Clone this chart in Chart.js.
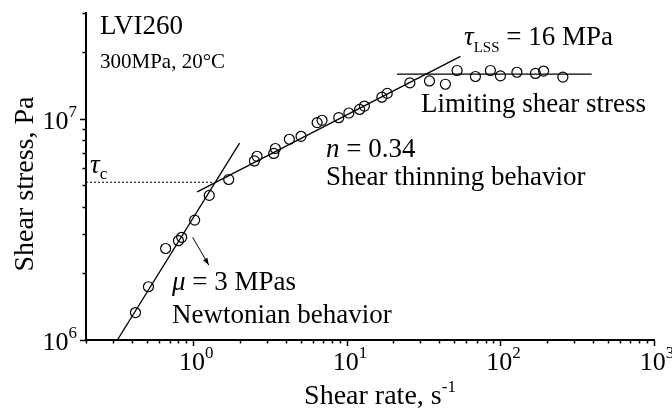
<!DOCTYPE html>
<html>
<head>
<meta charset="utf-8">
<script src="https://cdn.jsdelivr.net/npm/chart.js@4/dist/chart.umd.min.js"></script>
<style>
    body { margin: 0; background: #ffffff; }
    #plot-wrapper { position: relative; width: 672px; height: 412px; }
</style>
</head>
<body>
<div id="plot-wrapper">
    <canvas id="plot" width="672" height="412"></canvas>
</div>
<script>
// measured points (shear rate s^-1, shear stress Pa)
const shearRate = [0.42, 0.51, 0.66, 0.80, 0.84, 1.02, 1.27, 1.70,
    2.50, 2.60, 3.34, 3.42, 4.22, 5.03, 6.40, 6.89, 8.85, 10.3, 12.1, 13.0, 16.9, 18.3,
    25.7, 34.5, 43.8, 52.2, 68.7, 86.0, 100, 128, 169, 191, 255];
const shearStress = [1.33e6, 1.74e6, 2.59e6, 2.81e6, 2.91e6, 3.48e6, 4.50e6, 5.31e6,
    6.44e6, 6.76e6, 6.96e6, 7.33e6, 8.07e6, 8.32e6, 9.59e6, 9.83e6, 1.01e7, 1.06e7, 1.10e7, 1.14e7, 1.25e7, 1.30e7,
    1.45e7, 1.48e7, 1.43e7, 1.65e7, 1.55e7, 1.65e7, 1.56e7, 1.62e7, 1.60e7, 1.64e7, 1.54e7];

// fitted lines
const newtonFitRate = [0.32, 2.0];
const newtonFitStress = [1.0e6, 7.75e6];
const thinningFitRate = [1.06, 54.9];
const thinningFitStress = [4.67e6, 1.91e7];
const lssFitRate = [21.2, 393];
const lssFitStress = [1.59e7, 1.59e7];
const tauCRate = [0.2, 1.36];
const tauCStress = [5.16e6, 5.16e6];
const arrowRate = [0.99, 1.26];
const arrowStress = [2.91e6, 2.18e6];

// axes
const xMin = 0.2, xMax = 1000;
const yMin = 1e6, yMax = 3e7;
const xTickPowers = [0, 1, 2, 3];
const yTickPowers = [6, 7];

const SERIF = "'Liberation Serif', 'Times New Roman', serif";

const toPoints = (xs, ys) => xs.map((x, i) => ({ x: x, y: ys[i] }));

const lineSet = (xs, ys, extra) => Object.assign({
    type: 'line',
    data: toPoints(xs, ys),
    borderColor: '#000',
    borderWidth: 1.3,
    pointRadius: 0,
    fill: false,
    tension: 0,
}, extra || {});

// draws text pieces one after another (for sub/superscripts)
function drawRich(ctx, parts, x, y, align) {
    let total = 0;
    parts.forEach((p) => {
        ctx.font = p.font;
        total += ctx.measureText(p.t).width;
    });
    let cx = x;
    if (align === 'center') cx = x - total / 2;
    if (align === 'right') cx = x - total;
    ctx.textAlign = 'left';
    ctx.textBaseline = 'alphabetic';
    parts.forEach((p) => {
        ctx.font = p.font;
        ctx.fillText(p.t, cx, y + (p.dy || 0));
        cx += ctx.measureText(p.t).width;
    });
}

const big = `27px ${SERIF}`;
const bigItalic = `italic 27px ${SERIF}`;
const title = `28px ${SERIF}`;
const small = `17px ${SERIF}`;

const annotations = [
    { x: 100, y: 34, parts: [{ t: 'LVI260', font: big }] },
    { x: 100, y: 68, parts: [{ t: '300MPa, 20°C', font: `21px ${SERIF}` }] },
    { x: 464, y: 45, parts: [{ t: 'τ', font: bigItalic }, { t: 'LSS', font: `15px ${SERIF}`, dy: 7 }, { t: ' = 16 MPa', font: big }] },
    { x: 421, y: 112, parts: [{ t: 'Limiting shear stress', font: big }] },
    { x: 326, y: 157, parts: [{ t: 'n', font: bigItalic }, { t: ' = 0.34', font: big }] },
    { x: 326, y: 185, parts: [{ t: 'Shear thinning behavior', font: big }] },
    { x: 172, y: 290, parts: [{ t: 'μ', font: bigItalic }, { t: ' = 3 MPas', font: big }] },
    { x: 172, y: 323, parts: [{ t: 'Newtonian behavior', font: big }] },
    { x: 90, y: 173, parts: [{ t: 'τ', font: bigItalic }, { t: 'c', font: small, dy: 6 }] },
];

const decorPlugin = {
    id: 'decor',
    afterDraw: (chart) => {
        const { ctx, chartArea } = chart;
        const xs = chart.scales.x;
        const ys = chart.scales.y;
        ctx.save();
        ctx.strokeStyle = '#000';
        ctx.fillStyle = '#000';
        ctx.lineWidth = 1.5;

        // log ticks, outward
        for (let d = -1; d <= 3; d++) {
            for (let m = 1; m <= 9; m++) {
                const v = m * Math.pow(10, d);
                if (v >= xMin && v <= xMax * 1.0001) {
                    const px = Math.round(xs.getPixelForValue(v)) + 0.5;
                    const len = m === 1 ? 6 : 3.5;
                    ctx.beginPath();
                    ctx.moveTo(px, chartArea.bottom);
                    ctx.lineTo(px, chartArea.bottom + len);
                    ctx.stroke();
                }
            }
        }
        for (let d = 6; d <= 7; d++) {
            for (let m = 1; m <= 9; m++) {
                const v = m * Math.pow(10, d);
                if (v >= yMin && v <= yMax * 1.0001) {
                    const py = Math.round(ys.getPixelForValue(v)) + 0.5;
                    const len = m === 1 ? 6 : 3.5;
                    ctx.beginPath();
                    ctx.moveTo(chartArea.left, py);
                    ctx.lineTo(chartArea.left - len, py);
                    ctx.stroke();
                }
            }
        }

        // tick labels
        const tickFont = `26px ${SERIF}`;
        const supFont = `17px ${SERIF}`;
        xTickPowers.forEach((p) => {
            const px = xs.getPixelForValue(Math.pow(10, p));
            drawRich(ctx, [{ t: '10', font: tickFont }, { t: String(p), font: supFont, dy: -12 }],
                px + 3, chartArea.bottom + 30, 'center');
        });
        yTickPowers.forEach((p) => {
            const py = ys.getPixelForValue(Math.pow(10, p));
            drawRich(ctx, [{ t: '10', font: tickFont }, { t: String(p), font: supFont, dy: -12 }],
                chartArea.left - 9, py + 10, 'right');
        });

        // axis titles
        drawRich(ctx, [{ t: 'Shear rate, s', font: title }, { t: '-1', font: supFont, dy: -12 }],
            380, 404, 'center');
        ctx.save();
        ctx.translate(33, 184);
        ctx.rotate(-Math.PI / 2);
        drawRich(ctx, [{ t: 'Shear stress, Pa', font: title }], 0, 0, 'center');
        ctx.restore();

        annotations.forEach((a) => drawRich(ctx, a.parts, a.x, a.y, 'left'));

        // arrow head at the end of the pointer line
        const x0 = xs.getPixelForValue(arrowRate[0]), y0 = ys.getPixelForValue(arrowStress[0]);
        const x1 = xs.getPixelForValue(arrowRate[1]), y1 = ys.getPixelForValue(arrowStress[1]);
        const ang = Math.atan2(y1 - y0, x1 - x0);
        const hl = 7, hw = 2.5;
        ctx.beginPath();
        ctx.moveTo(x1, y1);
        ctx.lineTo(x1 - hl * Math.cos(ang) + hw * Math.sin(ang), y1 - hl * Math.sin(ang) - hw * Math.cos(ang));
        ctx.lineTo(x1 - hl * Math.cos(ang) - hw * Math.sin(ang), y1 - hl * Math.sin(ang) + hw * Math.cos(ang));
        ctx.closePath();
        ctx.fill();
        ctx.restore();
    }
};

const config = {
    type: 'scatter',
    data: {
        datasets: [
            {
                label: 'measured',
                data: toPoints(shearRate, shearStress),
                pointStyle: 'circle',
                pointRadius: 5,
                pointBorderWidth: 1.2,
                borderColor: '#000',
                backgroundColor: 'rgba(0,0,0,0)',
            },
            lineSet(newtonFitRate, newtonFitStress),
            lineSet(thinningFitRate, thinningFitStress),
            lineSet(lssFitRate, lssFitStress),
            lineSet(tauCRate, tauCStress, { borderWidth: 1, borderDash: [2, 2] }),
            lineSet(arrowRate, arrowStress, { borderWidth: 1 }),
        ],
    },
    options: {
        responsive: false,
        animation: false,
        events: [],
        layout: { padding: { top: 13, right: 18, left: 0, bottom: 0 } },
        plugins: {
            legend: { display: false },
            tooltip: { enabled: false },
        },
        scales: {
            x: {
                type: 'logarithmic',
                min: xMin,
                max: xMax,
                ticks: { display: false },
                grid: { display: false },
                border: { display: true, color: '#000', width: 2 },
                afterFit: (scale) => { scale.height = 72; },
            },
            y: {
                type: 'logarithmic',
                min: yMin,
                max: yMax,
                ticks: { display: false },
                grid: { display: false },
                border: { display: true, color: '#000', width: 2 },
                afterFit: (scale) => { scale.width = 86; },
            },
        },
    },
    plugins: [decorPlugin],
};

new Chart(document.getElementById('plot'), config);
</script>
</body>
</html>
